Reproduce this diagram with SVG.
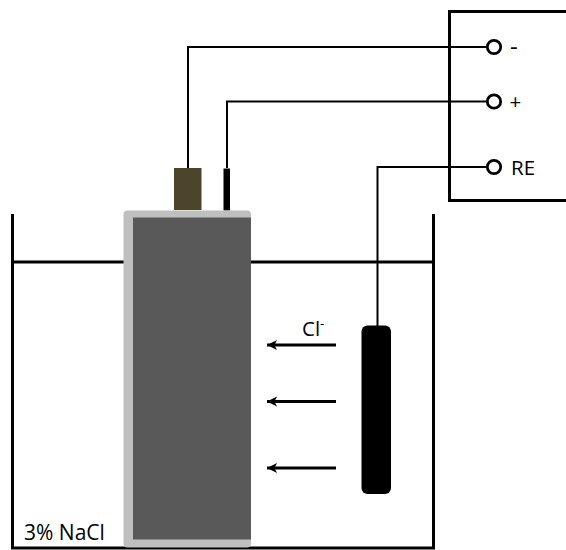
<svg xmlns="http://www.w3.org/2000/svg" width="566" height="550" viewBox="0 0 566 550">
<style>
.l{fill:none;stroke:#000;stroke-width:2}
.h{fill:none;stroke:#000;stroke-width:3}
.t{font-family:"Open Sans","Noto Sans",sans-serif;font-size:20.500px;fill:#000}
.c{fill:#fff;stroke:#000;stroke-width:2.800}
.a{stroke:#000;stroke-width:3;fill:none;marker-end:url(#ah)}
</style>
<defs>
<marker id="ah" markerUnits="userSpaceOnUse" markerWidth="11" markerHeight="11" refX="10" refY="5.500" orient="auto"><path d="M10 5.500L0 .5L2.500 5.500L0 10.500Z" fill="#000"/></marker>
</defs>
<rect width="566" height="550" fill="#fff"/>
<g id="tank">
<path class="h" d="M12.500 214V548H433.500V214"/>
<path class="h" d="M12 262H124M250 262H433"/>
</g>
<g id="instrument"><path class="h" d="M566 11.500H449.500V200.500H566"/></g>
<g id="connectors">
<path class="l" d="M188 168V47H487"/>
<path class="l" d="M227 168V101.500H487"/>
<path class="l" d="M377.500 326V167H487"/>
<path class="a" d="M336 345H267"/>
<path class="a" d="M336 401.500H267"/>
<path class="a" d="M336 468H267"/>
</g>
<g id="terminal-neg"><rect x="174" y="168" width="27.500" height="42" fill="#4d442c"/></g>
<g id="terminal-pos"><rect x="223.500" y="168.500" width="6.500" height="42" fill="#000"/></g>
<g id="cell">
<rect x="123.500" y="210.500" width="127.500" height="337" rx="4" fill="#bfbfbf"/>
<rect x="133" y="217.500" width="118" height="322" fill="#595959"/>
</g>
<g id="reference-electrode"><rect x="361.500" y="325.500" width="29.500" height="168.500" rx="6" fill="#000"/></g>
<g id="node-minus"><circle class="c" cx="494" cy="47" r="6.700"/><text class="t" x="510" y="55" style="font-size:24px">-</text></g>
<g id="node-plus"><circle class="c" cx="494" cy="101.500" r="6.700"/><text class="t" x="509.500" y="109">+</text></g>
<g id="node-re"><circle class="c" cx="494" cy="167" r="6.700"/><text class="t" x="511" y="175">RE</text></g>
<text class="t" x="302" y="336">Cl<tspan font-size="13" dy="-8">-</tspan></text>
<text class="t" x="24" y="540" style="font-size:21px">3% NaCl</text>
</svg>
